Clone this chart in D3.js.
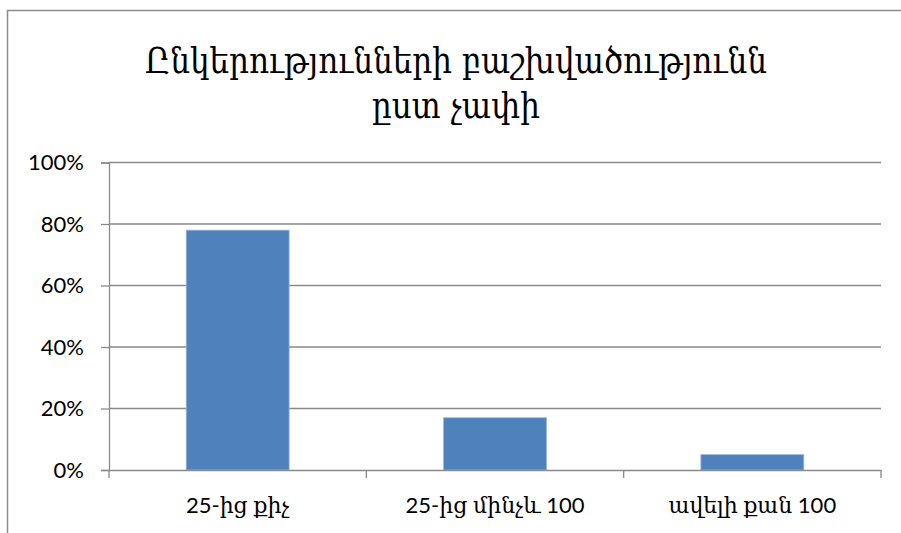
<!DOCTYPE html>
<html><head><meta charset="utf-8">
<script src="https://cdn.jsdelivr.net/npm/d3@7"></script>
<style>body{margin:0;background:#fff}svg{display:block}</style>
</head><body>
<svg id="c" width="901" height="533"></svg>
<script>
const titleLines = ["Ընկերությունների բաշխվածությունն", "ըստ չափի"];
const categories = ["25-ից քիչ", "25-ից մինչև 100", "ավելի քան 100"];
const values = [0.78, 0.17, 0.05];
const yTicks = [0, 0.2, 0.4, 0.6, 0.8, 1.0];

(function () {
const svg = d3.select("#c");
const pLeft = 109, pRight = 881, pTop = 162.5, pBottom = 470;
const gridColor = "#8a8a8a";

// outer border
svg.append("rect").attr("x", 7.5).attr("y", 10.5).attr("width", 1000).attr("height", 1000)
  .attr("fill", "none").attr("stroke", "#8c8c8c").attr("stroke-width", 1.5);

const x = d3.scaleBand().domain(categories).range([pLeft, pRight]).paddingInner(0.6).paddingOuter(0.3);
const xb = d3.scaleBand().domain(categories).range([pLeft, pRight]);
const y = d3.scaleLinear().domain([0, 1]).range([pBottom, pTop]);

// gridlines
svg.append("g").selectAll("line").data(yTicks.filter(d => d > 0)).join("line")
  .attr("x1", pLeft).attr("x2", pRight).attr("y1", d => y(d)).attr("y2", d => y(d))
  .attr("stroke", gridColor).attr("stroke-width", 1.3);

// y axis
const ya = svg.append("g").attr("transform", `translate(${pLeft},0)`)
  .call(d3.axisLeft(y).tickValues(yTicks).tickFormat(d3.format(".0%")).tickSize(8).tickPadding(17));
ya.select(".domain").attr("stroke", gridColor).attr("stroke-width", 1.3);
ya.selectAll(".tick line").attr("stroke", gridColor).attr("stroke-width", 1.3);
ya.selectAll("text").attr("font-family", "Lato, 'Open Sans', sans-serif").attr("font-size", 22).attr("fill", "#000");

// bars
svg.append("g").selectAll("rect").data(values).join("rect")
  .attr("x", (d, i) => x(categories[i])).attr("width", x.bandwidth())
  .attr("y", d => y(d)).attr("height", d => pBottom - y(d))
  .attr("fill", "#4f81bd").attr("stroke", "#9db8dc").attr("stroke-width", 0.8);

// x axis
const xa = svg.append("g").attr("transform", `translate(0,${pBottom})`)
  .call(d3.axisBottom(xb).tickSize(0).tickPadding(27));
xa.select(".domain").attr("stroke", gridColor).attr("stroke-width", 1.3);
xa.selectAll("text").attr("font-family", "Lato, 'DejaVu Serif', serif").attr("font-size", 22).attr("fill", "#000");
// category boundary ticks
const bounds = categories.map(c => xb(c)).concat([pRight]);
svg.append("g").selectAll("line").data(bounds).join("line")
  .attr("x1", d => d).attr("x2", d => d).attr("y1", pBottom).attr("y2", pBottom + 8)
  .attr("stroke", gridColor).attr("stroke-width", 1.3);

// title
svg.append("g").selectAll("text").data(titleLines).join("text")
  .attr("x", 456).attr("y", (d, i) => 73 + i * 45)
  .attr("text-anchor", "middle")
  .attr("font-family", "'DejaVu Serif Condensed', 'DejaVu Serif', serif")
  .attr("font-size", 34.5).attr("fill", "#000")
  .text(d => d);
})();
</script>
</body></html>
